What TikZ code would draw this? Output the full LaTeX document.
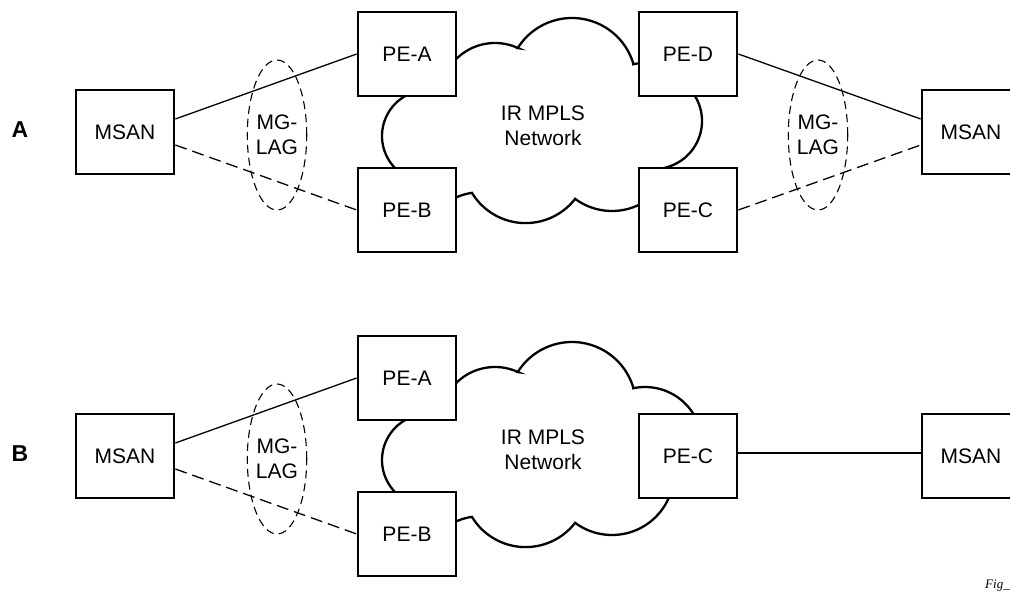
\documentclass[tikz,border=0pt]{standalone}
\usepackage{fontspec}
\setmainfont{Liberation Sans}
\newfontfamily\figfont{Liberation Serif}
\usetikzlibrary{shapes.geometric}
\begin{document}
\begin{tikzpicture}[x=1pt,y=-1pt,
  box/.style={draw,line width=2.7pt,fill=white,minimum width=98pt,minimum height=84pt,inner sep=0pt,font=\fontsize{21}{25}\selectfont},
  lag/.style={draw,ellipse,dash pattern=on 8pt off 5pt,line width=1.1pt,minimum width=59pt,minimum height=150pt,inner sep=0pt,align=center,font=\fontsize{21}{25}\selectfont},
  link/.style={line width=1.3pt},
  backup/.style={line width=1.3pt,dash pattern=on 12pt off 6pt},
  cloudline/.style={line width=2.3pt,line join=miter},
  cloudtext/.style={align=center,font=\fontsize{21}{25}\selectfont},
  rowlabel/.style={font=\bfseries\fontsize{23}{27}\selectfont},
]
\useasboundingbox (0,0) rectangle (1010,591);
% clouds (same outline in both rows; parts run under the white boxes)
\foreach \dy in {0,324}{
\begin{scope}[shift={(0,\dy)}]
\draw[cloudline]
  plot[domain=130:250,samples=40] ({428+46*cos(\x)},{136+46*sin(\x)})
  -- plot[domain=215:295,samples=40] ({495+55*cos(\x)},{98+55*sin(\x)})
  -- plot[domain=212:342,samples=60] ({572+64*cos(\x)},{82+64*sin(\x)})
  -- plot[domain=258:330,samples=30] ({645+57*cos(\x)},{120+57*sin(\x)})
  -- plot[domain=325:435,samples=40] ({654+48*cos(\x)},{121+48*sin(\x)})
  -- plot[domain=20:126.5,samples=40] ({612+62*cos(\x)},{149+62*sin(\x)})
  -- plot[domain=38:148.7,samples=40] ({525.6+62.7*cos(\x)},{160.4+62.7*sin(\x)})
  -- plot[domain=262:225,samples=20] ({480+57.7*cos(\x)},{250+57.7*sin(\x)})
  -- cycle;
\end{scope}}
\node[cloudtext] (netA) at (543,126) {IR MPLS\\Network};
\node[cloudtext] (netB) at (543,450) {IR MPLS\\Network};
% row A
\node[rowlabel] (labA) at (20,130) {A};
\node[box] (msanAl) at (125,132) {MSAN};
\node[box] (peAa) at (407,54) {PE-A};
\node[box] (peAb) at (407,210) {PE-B};
\node[box] (peAd) at (688,54) {PE-D};
\node[box] (peAc) at (688,210) {PE-C};
\node[box] (msanAr) at (971,132) {MSAN};
\node[lag] (lagAl) at (277,135) {MG-\\LAG};
\node[lag] (lagAr) at (818,135) {MG-\\LAG};
\draw[link] ([yshift=13pt]msanAl.east) -- (peAa.west);
\draw[backup] ([yshift=-13pt]msanAl.east) -- (peAb.west);
\draw[link] (peAd.east) -- ([yshift=13pt]msanAr.west);
\draw[backup] (peAc.east) -- ([yshift=-13pt]msanAr.west);
% row B
\node[rowlabel] (labB) at (20,454) {B};
\node[box] (msanBl) at (125,456) {MSAN};
\node[box] (peBa) at (407,378) {PE-A};
\node[box] (peBb) at (407,534) {PE-B};
\node[box] (peBc) at (688,456) {PE-C};
\node[box] (msanBr) at (971,456) {MSAN};
\node[lag] (lagBl) at (277,459) {MG-\\LAG};
\draw[link] ([yshift=13pt]msanBl.east) -- (peBa.west);
\draw[backup] ([yshift=-13pt]msanBl.east) -- (peBb.west);
\draw[link] ([yshift=3pt]peBc.east) -- ([yshift=3pt]msanBr.west);
% figure tag
\node[anchor=base west,inner sep=0pt,font=\figfont\itshape\fontsize{13}{15}\selectfont] (fig) at (985,588) {Fig\_};
\end{tikzpicture}
\end{document}
